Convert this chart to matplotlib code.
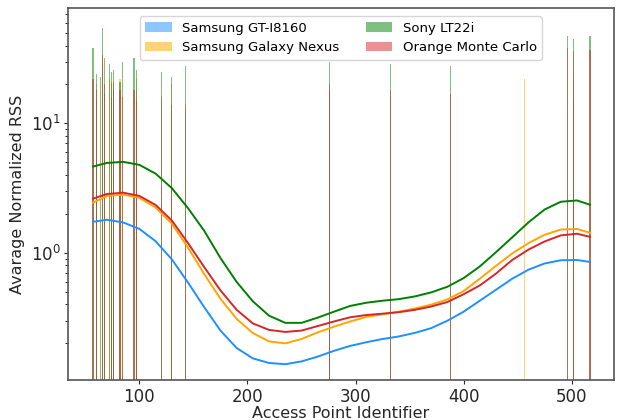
import matplotlib.pyplot as plt

# access points with a measured RSS, and the average normalized RSS per device
ap_ids = [57, 60, 64, 66, 68, 72, 74, 76, 82, 84, 95, 97, 120, 130, 143,
          276, 332, 388, 456, 496, 502, 517]
rss_gt = [0, 15, 0, 0, 17, 0, 20, 18, 0, 0, 0, 18, 0, 0, 0,
          18, 0, 0, 0, 0, 15, 0]
rss_nexus = [0, 20, 0, 30, 0, 22, 21, 0, 22, 0, 0, 22, 0, 20, 0,
             0, 0, 0, 22, 0, 22, 0]
rss_sony = [38, 24, 23, 55, 32, 29, 25, 26, 21, 30, 32, 26, 25, 23, 28,
            30, 29, 28, 0, 47, 45, 47]
rss_orange = [22, 18, 0, 34, 20, 0, 16, 21, 18, 16, 18, 15, 16, 14, 14,
              20, 18, 17, 0, 38, 36, 37]

# smoothed trend per device
fit_x = [57, 70, 85, 100, 115, 130, 145, 160, 175, 190, 205, 220, 235, 250,
         265, 280, 295, 310, 325, 340, 355, 370, 385, 400, 415, 430, 445,
         460, 475, 490, 505, 517]
fit_gt = [1.738, 1.803, 1.718, 1.531, 1.230, 0.891, 0.589, 0.380, 0.251,
          0.184, 0.153, 0.141, 0.138, 0.145, 0.158, 0.175, 0.191, 0.204,
          0.216, 0.226, 0.241, 0.262, 0.299, 0.351, 0.427, 0.519, 0.631,
          0.741, 0.828, 0.877, 0.881, 0.851]
fit_nexus = [2.443, 2.754, 2.818, 2.661, 2.239, 1.679, 1.096, 0.684, 0.442,
             0.309, 0.240, 0.207, 0.200, 0.216, 0.243, 0.269, 0.295, 0.320,
             0.335, 0.351, 0.372, 0.398, 0.437, 0.507, 0.631, 0.794, 0.989,
             1.189, 1.380, 1.514, 1.531, 1.429]
fit_sony = [4.645, 4.955, 5.047, 4.786, 4.093, 3.162, 2.213, 1.479, 0.912,
            0.596, 0.422, 0.327, 0.288, 0.288, 0.316, 0.351, 0.389, 0.412,
            0.427, 0.439, 0.461, 0.495, 0.547, 0.638, 0.785, 1.012, 1.318,
            1.718, 2.163, 2.483, 2.541, 2.355]
fit_orange = [2.624, 2.851, 2.917, 2.754, 2.344, 1.778, 1.189, 0.776, 0.513,
              0.363, 0.285, 0.254, 0.245, 0.251, 0.272, 0.295, 0.318, 0.331,
              0.339, 0.348, 0.363, 0.385, 0.417, 0.479, 0.560, 0.692, 0.881,
              1.059, 1.225, 1.365, 1.406, 1.330]

devices = ["Samsung GT-I8160", "Samsung Galaxy Nexus", "Sony LT22i", "Orange Monte Carlo"]
colors = ["dodgerblue", "orange", "green", "#d62728"]
bars = [rss_gt, rss_nexus, rss_sony, rss_orange]
fits = [fit_gt, fit_nexus, fit_sony, fit_orange]

plt.rcParams['font.family'] = 'DejaVu Sans'
fig = plt.figure(figsize=(6.25, 4.2), dpi=100)
ax = fig.add_axes([0.109, 0.095, 0.873, 0.886])

for name, c, b in zip(devices, colors, bars):
    ax.bar(ap_ids, b, width=1.0, color=c, alpha=0.5, label=name, linewidth=0)
for c, f in zip(colors, fits):
    ax.plot(fit_x, f, color=c, linewidth=1.4)

ax.set_yscale('log')
ax.set_xlim(34, 539)
ax.set_ylim(0.104, 78)
ax.set_xticks([100, 200, 300, 400, 500])

for s in ax.spines.values():
    s.set_color('#555555')
    s.set_linewidth(1.2)
ax.tick_params(colors='#262626', labelsize=12, length=3, width=0.8, pad=2.5)
ax.tick_params(which='minor', length=2, width=0.6)
ax.tick_params(axis='x', which='minor', bottom=False)
ax.set_xlabel("Access Point Identifier", fontsize=11.5, color='#262626', labelpad=0)
ax.set_ylabel("Avarage Normalized RSS", fontsize=11.5, color='#262626', labelpad=4)

leg = ax.legend(loc='upper center', ncol=2, fontsize=9.5, frameon=True,
                bbox_to_anchor=(0.5, 0.995))
leg.get_frame().set_edgecolor('#cccccc')

plt.savefig("out.png", dpi=100)
